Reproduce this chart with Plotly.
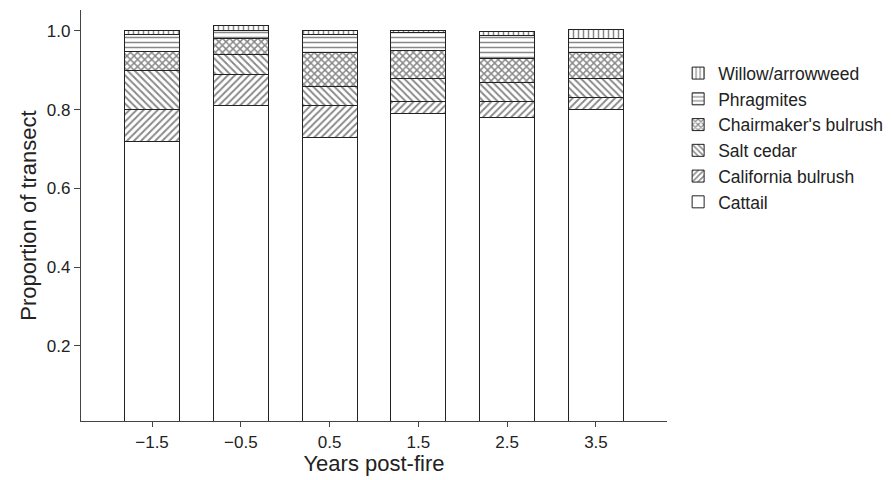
import plotly.graph_objects as go

years = [-1.5, -0.5, 0.5, 1.5, 2.5, 3.5]
tick_labels = ["\u22121.5", "\u22120.5", "0.5", "1.5", "2.5", "3.5"]

cattail = [0.72, 0.81, 0.73, 0.79, 0.78, 0.80]
california_bulrush = [0.08, 0.08, 0.08, 0.03, 0.04, 0.03]
salt_cedar = [0.10, 0.05, 0.05, 0.06, 0.05, 0.05]
chairmakers_bulrush = [0.047, 0.04, 0.085, 0.07, 0.06, 0.065]
phragmites = [0.044, 0.022, 0.045, 0.047, 0.058, 0.035]
willow_arrowweed = [0.011, 0.012, 0.01, 0.003, 0.011, 0.023]

series = [
    ("Cattail", cattail, "", 0.3),
    ("California bulrush", california_bulrush, "/", 0.38),
    ("Salt cedar", salt_cedar, "\\", 0.38),
    ("Chairmaker's bulrush", chairmakers_bulrush, "x", 0.5),
    ("Phragmites", phragmites, "-", 0.3),
    ("Willow/arrowweed", willow_arrowweed, "|", 0.3),
]

fig = go.Figure()
for name, vals, shape, sol in series:
    fig.add_trace(go.Bar(
        x=years, y=vals, name=name, width=0.62,
        marker=dict(
            color="white",
            line=dict(color="#222222", width=1),
            pattern=dict(shape=shape, fgcolor="#111111", bgcolor="white",
                         size=5, solidity=sol, fillmode="overlay"),
        ),
    ))

fig.update_layout(
    barmode="stack",
    width=894, height=480,
    margin=dict(l=73, r=235, t=2, b=67),
    paper_bgcolor="white", plot_bgcolor="white",
    font=dict(family="Liberation Sans, Arial, sans-serif", color="#222222", size=17),
    showlegend=True,
    legend=dict(x=1.019, y=0.89, xanchor="left", yanchor="top",
                font=dict(size=17.5), traceorder="reversed",
                bgcolor="rgba(0,0,0,0)", tracegroupgap=0),
    xaxis=dict(
        range=[-2.3, 4.3], tickvals=years, ticktext=tick_labels,
        showline=True, linecolor="#444444", linewidth=1.2,
        ticks="outside", ticklen=5, tickcolor="#444444",
        showgrid=False, zeroline=False, automargin=False,
        tickfont=dict(size=17),
        title=dict(text="Years post-fire", font=dict(size=22), standoff=0),
    ),
    yaxis=dict(
        range=[0.0095, 1.053], tickvals=[0.2, 0.4, 0.6, 0.8, 1.0],
        ticktext=["0.2", "0.4", "0.6", "0.8", "1.0"],
        showline=True, linecolor="#444444", linewidth=1.2,
        ticks="outside", ticklen=6, tickcolor="#444444",
        showgrid=False, zeroline=False, automargin=False,
        tickfont=dict(size=17),
        title=dict(text="Proportion of transect", font=dict(size=22), standoff=4),
    ),
)

fig.write_html("out.html")
